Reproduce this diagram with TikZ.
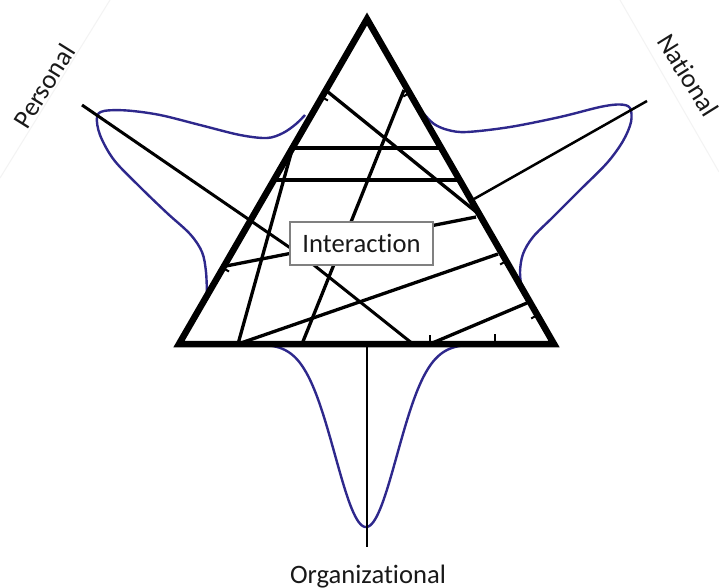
\documentclass[tikz,border=0pt]{standalone}
\usepackage{fontspec}
\setmainfont{Carlito}[Ligatures=NoCommon]
\definecolor{lobe}{RGB}{46,40,140}
\definecolor{faint}{RGB}{243,243,243}
\definecolor{boxgray}{RGB}{128,128,128}
\begin{document}
\begin{tikzpicture}[x=1pt,y=-1pt,
  edge/.style={line width=6.5pt, line join=miter, miter limit=10},
  inner/.style={line width=3.3pt},
  axisline/.style={line width=2.5pt},
  tickmark/.style={line width=2pt},
  lobeline/.style={draw=lobe, line width=2.4pt},
  lbl/.style={font=\fontsize{26.6}{30}\selectfont, inner sep=0pt, text=black!90},
]
\useasboundingbox (0,0) rectangle (719,588);
\fill[white] (0,0) rectangle (719,588);
% faint text-box borders
\draw[faint, line width=1pt] (110,0) -- (0,178);
\draw[faint, line width=1pt] (620,0) -- (719,172);
% triangle corners
\coordinate (A) at (367,19);
\coordinate (BL) at (179,344);
\coordinate (BR) at (554,344);
% lobes
\draw[lobeline] plot[smooth, tension=0.55] coordinates {(305,115) (296,124) (283,133) (267,138) (240,135) (200,125) (160,115) (127,110.5) (104,111) (97,117) (100,135) (114,160) (140,187) (167,213) (190,234) (202,252) (206,272) (207,296)};
\draw[lobeline] plot[smooth, tension=0.55] coordinates {(424,114) (434,124) (448,130) (467,132) (510,127) (560,117) (600,107) (620,104.5) (630,108) (631,122) (623,141) (607,163) (580,190) (553,217) (533,237) (523,254) (520,272) (522,288) (527,298)};
\draw[lobeline] plot[domain=268:464, samples=120, smooth] (\x, {344+183*exp(-((\x-366)^2)/(2*31^2))});
% axes
\coordinate (ptip) at (82,105);
\coordinate (ntip) at (647,101);
\coordinate (nend) at (474,199);
\coordinate (otip) at (367,547);
\draw[axisline] (ntip) -- (nend);
\draw[axisline] (367,344) -- (otip);
\draw[inner, line width=3pt] (ptip) -- (305,258) -- (413,344);
% inner lines
\draw[inner] (292,148) -- (441,148);
\draw[inner] (274,180) -- (459,180);
\draw[inner] (328,92) -- (480,215);
\draw[inner] (404,90) -- (302,344);
\draw[inner] (292,150) -- (238,344);
\draw[inner] (226,266) -- (476,217);
\draw[inner] (238,344) -- (498,254);
\draw[inner] (430,344) -- (527,303);
% ticks
\draw[tickmark] (321.8,97) -- (327.9,100.5);
\draw[tickmark] (222.9,268) -- (229,271.5);
\draw[tickmark] (409.4,93) -- (403.3,96.5);
\draw[tickmark] (506.2,261) -- (500.1,264.5);
\draw[tickmark] (537.3,315) -- (531.2,318.5);
\draw[tickmark] (430,344) -- (430,335);
\draw[tickmark] (495,344) -- (495,334);
% triangle
\draw[edge] (A) -- (BR) -- (BL) -- cycle;
% labels
\node[lbl, draw=boxgray, line width=1.3pt, fill=white, minimum width=143pt, minimum height=43pt] (inter) at (361.5,243.5) {Interaction};
\node[lbl, rotate=58] (personal) at (44,86) {Personal};
\node[lbl, rotate=-58] (national) at (688,75) {National};
\node[lbl, anchor=base] (org) at (368,583) {Organizational};
\end{tikzpicture}
\end{document}
